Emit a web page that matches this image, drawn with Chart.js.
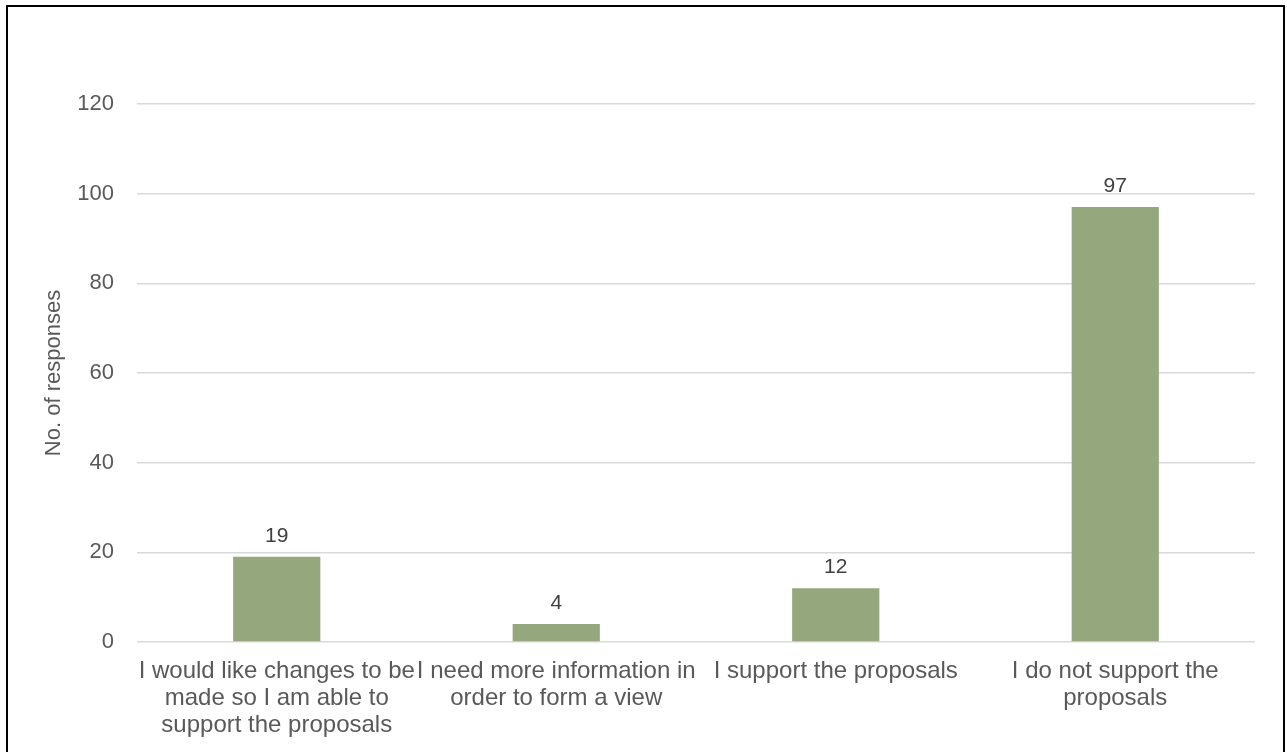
<!DOCTYPE html>
<html>
<head>
<meta charset="utf-8">
<script src="https://cdn.jsdelivr.net/npm/chart.js@4.4.1/dist/chart.umd.min.js"></script>
<style>
  html, body { margin: 0; padding: 0; background: #fff; overflow: hidden; }
  #wrap { position: relative; width: 1287px; height: 752px; }
  #moldura {
    position: absolute; left: 6px; top: 5px; width: 1279px; height: 800px;
    border: 2px solid #000; box-sizing: border-box; pointer-events: none;
  }
</style>
</head>
<body>
<div id="wrap">
  <canvas id="grafico" width="1287" height="752"></canvas>
  <div id="moldura"></div>
</div>
<script>
// dados do gráfico
const categorias = [
    ["I would like changes to be", "made so I am able to", "support the proposals"],
    ["I need more information in", "order to form a view"],
    ["I support the proposals"],
    ["I do not support the", "proposals"]
];
const respostas = [19, 4, 12, 97];
const yMax = 120;
const yPasso = 20;

// plugin simples para escrever o valor em cima de cada barra
const rotulosValor = {
    id: "rotulosValor",
    afterDatasetsDraw(chart) {
        const ctx = chart.ctx;
        const meta = chart.getDatasetMeta(0);
        ctx.save();
        ctx.font = "21px 'Liberation Sans', Arial, sans-serif";
        ctx.fillStyle = "#404040";
        ctx.textAlign = "center";
        ctx.textBaseline = "alphabetic";
        meta.data.forEach((barra, i) => {
            ctx.fillText(String(respostas[i]), barra.x, barra.y - 15);
        });
        ctx.restore();
    }
};

window.addEventListener("DOMContentLoaded", () => {
    const el = document.getElementById("grafico");
    new Chart(el, {
        type: "bar",
        data: {
            labels: categorias,
            datasets: [{
                data: respostas,
                backgroundColor: "#94A77D",
                borderWidth: 0,
                barPercentage: 0.312,
                categoryPercentage: 1
            }]
        },
        options: {
            responsive: false,
            animation: false,
            layout: { padding: { top: 104, right: 32, left: 0, bottom: 0 } },
            plugins: {
                legend: { display: false },
                tooltip: { enabled: false }
            },
            scales: {
                x: {
                    grid: { display: false, drawTicks: false },
                    border: { display: false },
                    ticks: {
                        autoSkip: false,
                        maxRotation: 0,
                        minRotation: 0,
                        padding: 16,
                        color: "#595959",
                        font: { family: "'Liberation Sans', Arial, sans-serif", size: 24, lineHeight: 1.12 }
                    },
                    afterFit(scale) { scale.height = 110; }
                },
                y: {
                    min: 0,
                    max: yMax,
                    ticks: {
                        stepSize: yPasso,
                        padding: 23,
                        color: "#595959",
                        font: { family: "'Liberation Sans', Arial, sans-serif", size: 22 }
                    },
                    grid: { color: "#d9d9d9", lineWidth: 1.5, drawTicks: false },
                    border: { display: false },
                    title: {
                        display: true,
                        text: "No. of responses",
                        color: "#595959",
                        padding: { top: 41, bottom: 0 },
                        font: { family: "'Liberation Sans', Arial, sans-serif", size: 22 }
                    },
                    afterFit(scale) { scale.width = 137; }
                }
            }
        },
        plugins: [rotulosValor]
    });
});
</script>
</body>
</html>
